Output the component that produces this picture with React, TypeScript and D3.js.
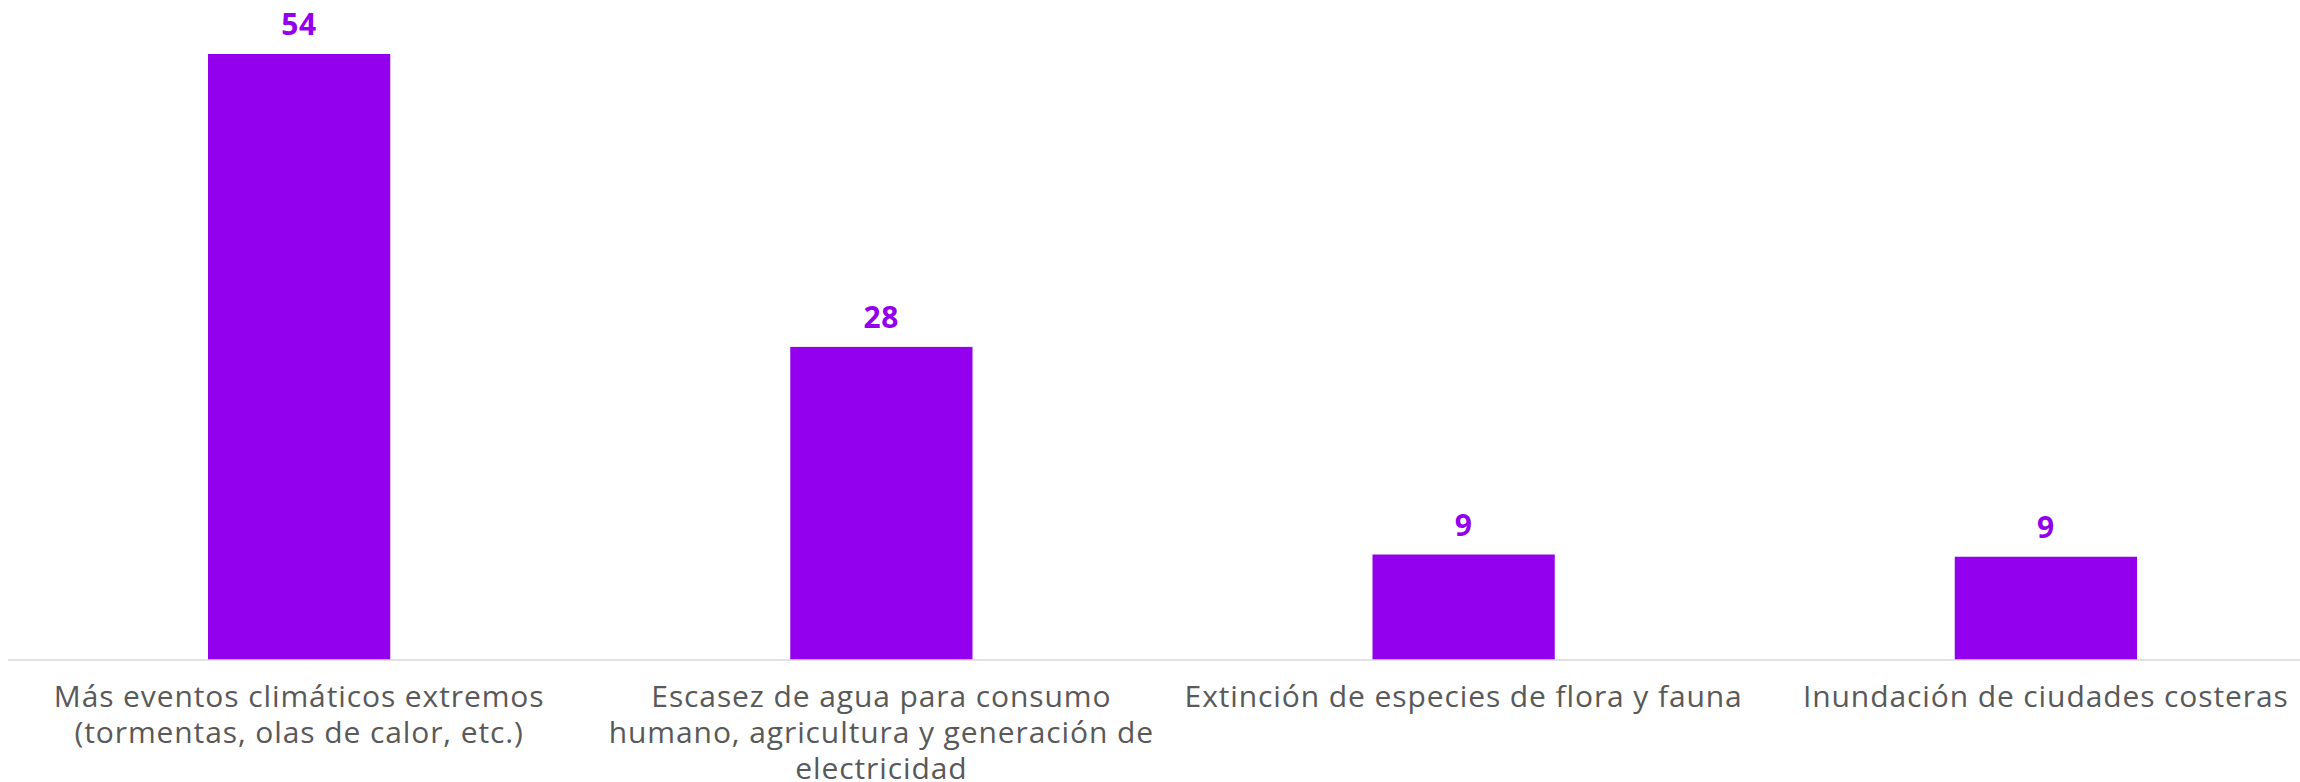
import React from 'react';
import * as d3 from 'd3';

const categories = [
  'Más eventos climáticos extremos (tormentas, olas de calor, etc.)',
  'Escasez de agua para consumo humano, agricultura y generación de electricidad',
  'Extinción de especies de flora y fauna',
  'Inundación de ciudades costeras',
];

// how each category label wraps under the axis
const categoryLines = [
  ['Más eventos climáticos extremos', '(tormentas, olas de calor, etc.)'],
  ['Escasez de agua para consumo', 'humano, agricultura y generación de', 'electricidad'],
  ['Extinción de especies de flora y fauna'],
  ['Inundación de ciudades costeras'],
];

const values = [54, 27.9, 9.4, 9.2];

const WIDTH = 2300;
const HEIGHT = 782;
const BAR_COLOR = '#9300ee';
const TEXT_COLOR = '#595959';
const FONT = '"Open Sans", "DejaVu Sans", sans-serif';

const App = () => {
  const x = d3.scaleBand<string>()
    .domain(categories)
    .range([8, 2337])
    .paddingInner(0.687)
    .paddingOuter(0.3435);

  const y = d3.scaleLinear()
    .domain([0, 54])
    .range([660, 54]);

  const baseline = y(0);
  const center = (c: string) => (x(c) as number) + x.bandwidth() / 2;

  return (
    <svg
      width={WIDTH}
      height={HEIGHT}
      style={{ position: 'absolute', left: 0, top: 0, background: '#fff' }}
      fontFamily={FONT}
    >
      {categories.map((c, i) => (
        <rect
          key={c}
          x={x(c)}
          y={y(values[i])}
          width={x.bandwidth()}
          height={baseline - y(values[i])}
          fill={BAR_COLOR}
        />
      ))}
      <line x1={8} x2={WIDTH} y1={baseline} y2={baseline} stroke="#d9d9d9" strokeWidth={1.5} />
      {categories.map((c, i) => (
        <text
          key={`v-${c}`}
          x={center(c)}
          y={y(values[i]) - 19}
          textAnchor="middle"
          fontSize={30}
          fontWeight="bold"
          letterSpacing={0.8}
          fill={BAR_COLOR}
        >
          {d3.format('.0f')(values[i])}
        </text>
      ))}
      {categories.map((c, i) => (
        <text
          key={`l-${c}`}
          textAnchor="middle"
          fontSize={30}
          letterSpacing={0.9}
          fill={TEXT_COLOR}
        >
          {categoryLines[i].map((line, j) => (
            <tspan key={line} x={center(c)} y={baseline + 47 + j * 36}>
              {line}
            </tspan>
          ))}
        </text>
      ))}
    </svg>
  );
};

export default App;
